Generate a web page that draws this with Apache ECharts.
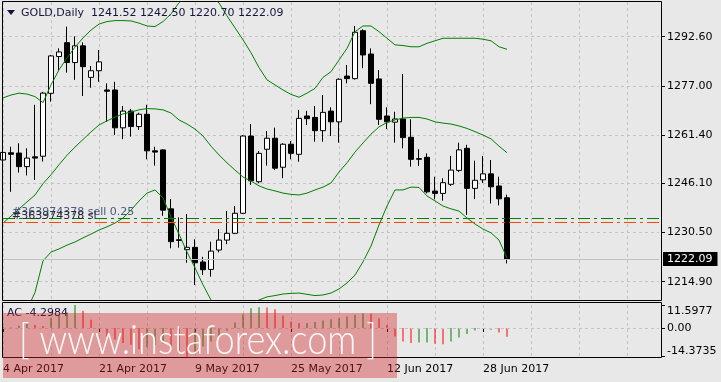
<!DOCTYPE html>
<html><head><meta charset="utf-8">
<script src="https://cdn.jsdelivr.net/npm/echarts@6/dist/echarts.min.js"></script>
<style>html,body{margin:0;padding:0;background:#e8e8e8}#c{width:721px;height:382px}</style>
</head><body><div id="c"></div>
<script>
// ---------- data ----------
const symbolName = 'GOLD';
const periodName = 'Daily';
const dates = [
 '4 Apr 2017','5 Apr 2017','6 Apr 2017','7 Apr 2017','10 Apr 2017','11 Apr 2017','12 Apr 2017','13 Apr 2017','17 Apr 2017','18 Apr 2017','19 Apr 2017','20 Apr 2017','21 Apr 2017','24 Apr 2017','25 Apr 2017','26 Apr 2017','27 Apr 2017','28 Apr 2017',
 '1 May 2017','2 May 2017','3 May 2017','4 May 2017','5 May 2017','8 May 2017','9 May 2017','10 May 2017','11 May 2017','12 May 2017','15 May 2017','16 May 2017','17 May 2017','18 May 2017','19 May 2017','22 May 2017','23 May 2017','24 May 2017','25 May 2017','26 May 2017','29 May 2017','30 May 2017','31 May 2017',
 '1 Jun 2017','2 Jun 2017','5 Jun 2017','6 Jun 2017','7 Jun 2017','8 Jun 2017','9 Jun 2017','12 Jun 2017','13 Jun 2017','14 Jun 2017','15 Jun 2017','16 Jun 2017','19 Jun 2017','20 Jun 2017','21 Jun 2017','22 Jun 2017','23 Jun 2017','26 Jun 2017','27 Jun 2017','28 Jun 2017','29 Jun 2017','30 Jun 2017',
 '3 Jul 2017'
];
const opens  = [1253.5,1255.8,1255.7,1251.4,1254.5,1254.7,1274.65,1286.3,1290.7,1284.4,1289.7,1279.7,1281.8,1275.7,1275.7,1263.7,1269.0,1264.1,1268.0,1256.4,1256.7,1238.0,1228.2,1225.05,1225.8,1221.15,1218.8,1224.95,1228.1,1230.25,1236.6,1261.1,1246.6,1256.9,1260.4,1251.2,1258.5,1255.3,1267.45,1267.0,1262.8,1269.0,1265.6,1280.1,1279.3,1294.5,1287.1,1279.2,1267.45,1265.5,1266.5,1260.7,1253.7,1254.35,1243.65,1242.9,1245.8,1250.2,1257.2,1244.5,1247.2,1249.1,1245.25,1241.52];
const highs  = [1261.4,1257.7,1258.8,1257.2,1271.0,1275.1,1286.8,1288.9,1295.8,1292.7,1290.8,1283.3,1288.4,1277.8,1278.3,1270.6,1269.7,1268.5,1271.0,1257.7,1256.9,1241.1,1235.3,1236.4,1228.35,1222.8,1227.6,1231.6,1237.3,1238.9,1261.4,1264.9,1256.35,1262.7,1263.75,1258.8,1259.5,1269.4,1269.1,1270.6,1274.1,1270.2,1279.4,1283.6,1296.0,1294.95,1288.9,1282.0,1270.2,1268.8,1280.8,1266.4,1256.9,1255.6,1248.2,1247.7,1254.8,1259.0,1258.3,1253.3,1254.8,1253.5,1248.2,1242.50];
const lows   = [1252.5,1243.4,1249.5,1248.6,1247.2,1253.0,1272.0,1282.0,1281.2,1278.9,1273.8,1276.4,1278.3,1265.6,1261.4,1260.1,1260.9,1263.0,1253.7,1251.7,1235.8,1225.5,1225.7,1220.9,1213.85,1217.0,1216.5,1224.2,1226.8,1230.0,1236.4,1245.6,1246.1,1251.7,1250.3,1247.7,1253.7,1252.96,1264.6,1259.3,1259.3,1261.1,1259.0,1277.8,1279.0,1282.6,1271.2,1264.6,1263.3,1259.0,1257.2,1251.4,1251.6,1242.9,1241.0,1240.6,1245.25,1249.7,1236.05,1241.1,1246.2,1239.7,1239.1,1220.70];
const closes = [1255.9,1255.3,1251.4,1254.1,1254.1,1274.7,1286.5,1287.75,1284.4,1289.7,1283.1,1281.8,1284.6,1275.3,1263.7,1269.0,1264.1,1268.0,1256.4,1256.0,1237.6,1227.6,1228.0,1225.8,1220.9,1218.7,1224.6,1228.1,1230.25,1236.6,1261.1,1246.9,1255.6,1260.4,1250.9,1258.5,1255.6,1266.7,1266.6,1262.8,1268.6,1265.6,1279.1,1279.3,1294.0,1286.8,1277.8,1266.4,1265.6,1266.5,1260.6,1253.7,1253.95,1243.4,1242.9,1246.3,1250.3,1256.7,1244.5,1247.06,1249.1,1245.0,1241.2,1222.09];
const bbUpper  = [1273.2,1274.1,1274.7,1274.4,1273.6,1271.7,1277.3,1282.1,1285.9,1289.3,1292.2,1294.7,1296.6,1297.4,1297.7,1297.7,1297.6,1296.9,1296.0,1295.8,1297.4,1299.8,1303.4,1305.5,1306.5,1306.5,1305.5,1303.3,1299.2,1295.4,1291.6,1287.5,1282.8,1278.9,1277.3,1275.7,1274.3,1273.4,1274.7,1276.2,1279.7,1281.5,1285.2,1288.9,1294.2,1296.0,1296.0,1294.2,1292.1,1290.0,1289.8,1289.4,1289.4,1290.5,1291.3,1292.1,1292.1,1292.1,1292.1,1292.1,1291.8,1291.3,1289.4,1288.6];
const bbMiddle = [1233.5,1235.7,1238.0,1240.2,1242.4,1246.0,1248.8,1252.0,1255.0,1257.6,1260.0,1262.4,1264.6,1265.9,1267.1,1268.1,1268.7,1269.4,1269.8,1269.7,1269.4,1268.4,1266.2,1264.9,1263.3,1261.1,1257.9,1255.1,1252.6,1250.3,1248.1,1246.8,1245.3,1244.3,1243.7,1243.0,1242.6,1242.4,1243.0,1244.0,1244.9,1246.2,1249.7,1252.6,1256.0,1258.9,1261.7,1264.0,1265.4,1266.2,1266.8,1267.0,1267.0,1266.5,1265.6,1265.2,1264.9,1264.3,1263.5,1262.5,1261.4,1260.2,1257.9,1255.8];
const bbLower  = [1193.8,1197.3,1201.4,1206.0,1211.5,1221.5,1224.3,1225.3,1226.5,1227.5,1228.8,1230.0,1231.3,1232.3,1233.5,1235.1,1237.6,1240.5,1243.0,1244.0,1241.5,1235.4,1230.0,1224.3,1219.3,1213.9,1209.1,1206.6,1205.9,1206.2,1207.2,1208.1,1209.1,1210.1,1210.5,1211.0,1211.2,1211.3,1210.9,1210.5,1210.7,1211.3,1212.6,1214.5,1217.0,1221.2,1226.2,1232.9,1238.9,1244.0,1244.0,1244.9,1244.8,1242.1,1240.5,1238.9,1238.0,1237.3,1235.1,1233.2,1231.6,1230.4,1228.1,1222.4];
const acValues = [0.6,0.3,1.2,2.2,1.6,1.1,5.0,6.7,7.8,11.5977,8.7,4.2,-0.3,-4.2,-5.9,-7.5,-8.4,-10.6,-9.6,-8.6,-7.8,-10.2,-12.4,-14.3735,-11.7,-9.3,-6.8,-4.2,-1.3,2.8,7.0,10.0,10.5,10.3,9.5,6.2,3.3,2.5,2.6,3.0,3.8,4.5,5.0,5.8,6.7,7.5,7.2,5.0,1.5,-4.2,-6.7,-7.5,-7.3,-7.2,-7.9,-8.1,-6.7,-4.7,-3.0,-1.2,-0.3,-0.8,-2.2,-4.2984];
const priceTicks = [1214.90,1230.50,1246.10,1261.40,1277.00,1292.60];
const acTicks = [-14.3735, 0, 11.5977];
const orderLines = [
  {name:'#363974378 sell 0.25', price:1235.0, color:'#008000', textColor:'#4a5a7a'},
  {name:'#363974378 sl', price:1233.7, color:'#ff4500', textColor:'#2a2a3a'}
];
const futureSlots = 19;
const labelEvery = 12;
const gridEvery = 6;
const watermarkText = '[ www.instaforex.com ]';

// ---------- chart ----------
const N = dates.length;
const last = N - 1;
const cats = dates.concat(Array.from({length: futureSlots}, (_, k) => ' '.repeat(k + 1)));
const candleData = opens.map((o, i) => [o, closes[i], lows[i], highs[i]]);
const acData = acValues.map((v, i) => ({
  value: v,
  itemStyle: {color: (i === 0 || v > acValues[i - 1]) ? '#008000' : '#ff0000'}
}));
const gridLineStyle = {color: '#c4c4c4', type: [3, 3], width: 1};
const txt = '#000';
const labelFn = (i) => i % labelEvery === 0 && i < N;

const chart = echarts.init(document.getElementById('c'), null, {renderer: 'canvas'});
chart.setOption({
  animation: false,
  backgroundColor: '#e8e8e8',
  textStyle: {fontFamily: 'DejaVu Sans'},
  grid: [
    {left: 3, top: 2, width: 656, height: 298},
    {left: 3, top: 305, width: 656, height: 51.7}
  ],
  xAxis: [
    {type: 'category', gridIndex: 0, data: cats, boundaryGap: false,
     axisLine: {show: false}, axisTick: {show: false}, axisLabel: {show: false},
     splitLine: {show: true, interval: gridEvery - 1, lineStyle: gridLineStyle}},
    {type: 'category', gridIndex: 1, data: cats, boundaryGap: false, offset: 1,
     axisLine: {show: false},
     axisTick: {show: true, length: 4, interval: labelFn, lineStyle: {color: '#000'}},
     axisLabel: {show: true, interval: labelFn, align: 'left', margin: 6, fontSize: 11, color: txt, fontFamily: 'DejaVu Sans'},
     splitLine: {show: true, interval: gridEvery - 1, lineStyle: gridLineStyle}}
  ],
  yAxis: [
    {type: 'value', gridIndex: 0, position: 'right', min: 1209.1, max: 1303.6, offset: 2,
     axisLine: {show: false},
     axisTick: {show: true, length: 4, customValues: priceTicks, lineStyle: {color: '#000'}},
     axisLabel: {customValues: priceTicks, formatter: v => v.toFixed(2), margin: 6, fontSize: 11, color: txt, fontFamily: 'DejaVu Sans'},
     splitLine: {show: true, lineStyle: gridLineStyle}},
    {type: 'value', gridIndex: 1, position: 'right', min: acTicks[0], max: acTicks[2], offset: 2,
     axisLine: {show: false},
     axisTick: {show: true, length: 4, customValues: acTicks, lineStyle: {color: '#000'}},
     axisLabel: {customValues: acTicks, margin: 6, fontSize: 11, color: txt, fontFamily: 'DejaVu Sans',
       formatter: v => v === acTicks[2] ? '{t|' + v.toFixed(4) + '}' : (v === acTicks[0] ? '{b|' + v.toFixed(4) + '}' : v.toFixed(2)),
       rich: {t: {padding: [13, 0, 0, 0], fontSize: 11, color: txt}, b: {padding: [0, 0, 11, 0], fontSize: 11, color: txt}}},
     splitLine: {show: false}}
  ],
  series: [
    {type: 'candlestick', xAxisIndex: 0, yAxisIndex: 0, data: candleData, barWidth: 5, z: 3,
     itemStyle: {color: '#ffffff', color0: '#000000', borderColor: '#000000', borderColor0: '#000000', borderWidth: 1},
     markLine: {silent: true, symbol: ['none', 'none'], animation: false,
       data: [
         {yAxis: closes[last], lineStyle: {color: '#c0c0c0', type: 'solid', width: 1},
          label: {show: true, position: 'end', distance: 4, formatter: closes[last].toFixed(2), color: '#fff', backgroundColor: '#000',
                  padding: [2, 5, 1, 4], fontSize: 11, fontFamily: 'DejaVu Sans'}}
       ].concat(orderLines.map(o => ({
          yAxis: o.price, name: o.name,
          lineStyle: {color: o.color, type: [12, 4, 3, 4], width: 1},
          label: {show: true, position: 'insideStartTop', distance: [9, 1], formatter: o.name, color: o.textColor, fontSize: 11, fontFamily: 'DejaVu Sans'}
       })))
     }},
    {type: 'line', xAxisIndex: 0, yAxisIndex: 0, data: bbUpper, showSymbol: false, z: 4, lineStyle: {color: '#008000', width: 1}},
    {type: 'line', xAxisIndex: 0, yAxisIndex: 0, data: bbMiddle, showSymbol: false, z: 4, lineStyle: {color: '#008000', width: 1}},
    {type: 'line', xAxisIndex: 0, yAxisIndex: 0, data: bbLower, showSymbol: false, z: 4, lineStyle: {color: '#008000', width: 1}},
    {type: 'bar', xAxisIndex: 1, yAxisIndex: 1, data: acData, barWidth: 1, z: 3,
     markLine: {silent: true, symbol: ['none', 'none'], label: {show: false},
       data: [{yAxis: 0}], lineStyle: gridLineStyle}}
  ],
  graphic: [
    {type: 'rect', shape: {x: 2.5, y: 1.5, width: 659, height: 299}, style: {fill: 'none', stroke: '#000', lineWidth: 1}, z: 50, silent: true},
    {type: 'rect', shape: {x: 2.5, y: 302.5, width: 659, height: 55}, style: {fill: 'none', stroke: '#000', lineWidth: 1}, z: 50, silent: true},
    {type: 'polygon', shape: {points: [[7, 10], [15, 10], [11, 15]]}, style: {fill: '#14143c'}, z: 50},
    {type: 'text', x: 21, y: 13, style: {text: symbolName + ',' + periodName + '  ' + [opens[last], highs[last], lows[last], closes[last]].map(v => v.toFixed(2)).join(' '),
      fill: '#14143c', font: '11px "DejaVu Sans"', verticalAlign: 'middle'}, z: 50},
    {type: 'text', x: 7, y: 313, style: {text: 'AC ' + acValues[last].toFixed(4), fill: '#14143c', font: '11px "DejaVu Sans"', verticalAlign: 'middle'}, z: 50},
    {type: 'rect', shape: {x: 3, y: 313, width: 394, height: 65}, style: {fill: 'rgba(210,40,40,0.40)'}, z: 100, silent: true},
    {type: 'text', x: 198, y: 340, scaleX: 0.86, originX: 0, originY: 0,
     style: {text: watermarkText, fill: 'rgba(255,255,255,0.92)', font: '300 42px Lato', align: 'center', verticalAlign: 'middle'}, z: 101, silent: true}
  ]
});
</script></body></html>
